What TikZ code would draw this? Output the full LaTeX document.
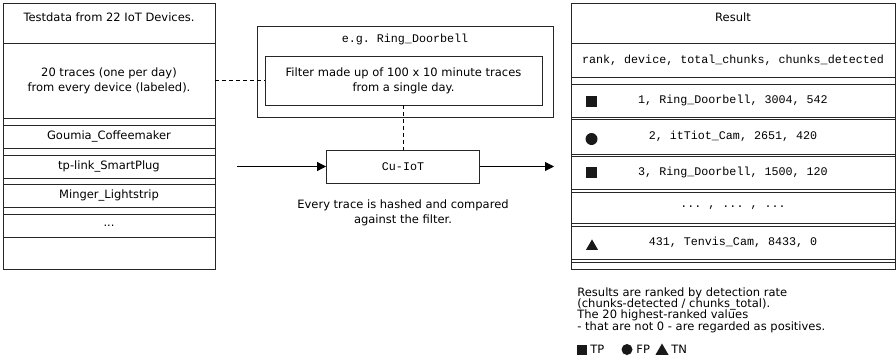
\documentclass[tikz,border=0pt]{standalone}
\usepackage{fontspec}
\setmainfont{DejaVu Sans}
\setmonofont{Liberation Mono}
\usepackage{tikz}
\usetikzlibrary{arrows.meta,positioning,shapes.geometric}
\setlength{\lineskiplimit}{-10pt}

\begin{document}
\begin{tikzpicture}[x=1pt, y=-1pt, >={Triangle[length=9pt,width=9pt]},
    font=\fontsize{11.5}{15}\selectfont, line width=0.8pt,
    cell/.style={draw=black!85, inner sep=0pt, align=center},
    lcell/.style={cell, minimum width=212pt},
    rcell/.style={cell, minimum width=324pt, font=\fontsize{11.7}{15}\selectfont\ttfamily},
    mono/.style={font=\fontsize{11.7}{15}\selectfont\ttfamily},
    symb/.style={fill=black!90, inner sep=0pt},
    link/.style={dash pattern=on 4pt off 3pt}]

    \useasboundingbox (0,0) rectangle (896,362);

    % Test data (left)
    \node[lcell, minimum height=266pt] (data) at (109,136) {};
    \node[lcell, minimum height=40pt] (datahead) at (109,23) {};
    \node (datatitle) at (109,17) {Testdata from 22 IoT Devices.};
    \node[lcell, minimum height=75pt] (traces) at (109,80.5)
        {20 traces (one per day)\\from every device (labeled).};
    \node[lcell, minimum height=23pt] (goumia) at (109,136.5) {Goumia\_Coffeemaker};
    \node[lcell, minimum height=23pt] (tplink) at (109,166.5) {tp-link\_SmartPlug};
    \node[lcell, minimum height=23pt] (minger) at (109,195.5) {Minger\_Lightstrip};
    \node[lcell, minimum height=23pt] (more) at (109,225.5) {...};

    % Filter and Cu-IoT (middle)
    \node[cell, minimum width=296pt, minimum height=91pt] (device) at (405,71.5) {};
    \node[mono] (devicename) at (405,39) {e.g. Ring\_Doorbell};
    \node[cell, minimum width=277pt, minimum height=49pt] (filter) at (403.5,80.5)
        {Filter made up of 100 x 10 minute traces\\from a single day.};
    \node[cell, mono, minimum width=153pt, minimum height=33pt] (cuiot) at (403,166.5) {Cu-IoT};
    \node[align=center] (hashnote) at (403,212.5)
        {Every trace is hashed and compared\\against the filter.};

    \coordinate (in) at (237,166.5);
    \coordinate (out) at (554,166.5);

    \draw[link] (data.east |- filter.west) -- (filter.west);
    \draw[link] (filter.south -| cuiot.north) -- (cuiot.north);
    \draw[->] (in) -- (cuiot.west);
    \draw[->] (cuiot.east) -- (out);

    % Result (right)
    \node[rcell, minimum height=266pt] (result) at (733,136) {};
    \node[rcell, minimum height=40pt] (resulthead) at (733,23) {};
    \node (resulttitle) at (733,17) {Result};
    \node[rcell, minimum height=34pt] (columns) at (733,60) {rank, device, total\_chunks, chunks\_detected};
    \node[rcell, minimum height=33pt] (r1) at (733,100.5) {1, Ring\_Doorbell, 3004, 542};
    \node[rcell, minimum height=35pt] (r2) at (733,136.5) {2, itTiot\_Cam, 2651, 420};
    \node[rcell, minimum height=33pt] (r3) at (733,172.5) {3, Ring\_Doorbell, 1500, 120};
    \node[rcell, minimum height=31pt] (r4) at (733,207.5) {... , ... , ...};
    \node[rcell, minimum height=33pt] (r5) at (733,242.5) {431, Tenvis\_Cam, 8433, 0};
    \node[rcell, minimum height=7pt] (r6) at (733,265.5) {};

    \node[symb, rectangle, minimum size=11pt] (s1) at (591.5,101.5) {};
    \node[symb, circle, minimum size=12pt] (s2) at (591.5,139) {};
    \node[symb, rectangle, minimum size=11pt] (s3) at (591.5,172.5) {};
    \node[symb, regular polygon, regular polygon sides=3, minimum size=14pt] (s5) at (592,246.4) {};

    \node[anchor=north west, align=left, inner sep=0pt,
        font=\fontsize{11.5}{11.3}\selectfont] (rank) at (577,287)
        {Results are ranked by detection rate\\
         (chunks-detected / chunks\_total).\\
         The 20 highest-ranked values\\
         - that are not 0 - are regarded as positives.};

    % legend
    \node[symb, rectangle, minimum size=10pt] (ltp) at (582,349.5) {};
    \node[anchor=west, inner sep=0pt] (tp) at (590,349.5) {TP};
    \node[symb, circle, minimum size=11pt] (lfp) at (627,349.5) {};
    \node[anchor=west, inner sep=0pt] (fp) at (636,349.5) {FP};
    \node[symb, regular polygon, regular polygon sides=3, minimum size=15pt] (ltn) at (662,351) {};
    \node[anchor=west, inner sep=0pt] (tn) at (671,349.5) {TN};

\end{tikzpicture}
\end{document}
